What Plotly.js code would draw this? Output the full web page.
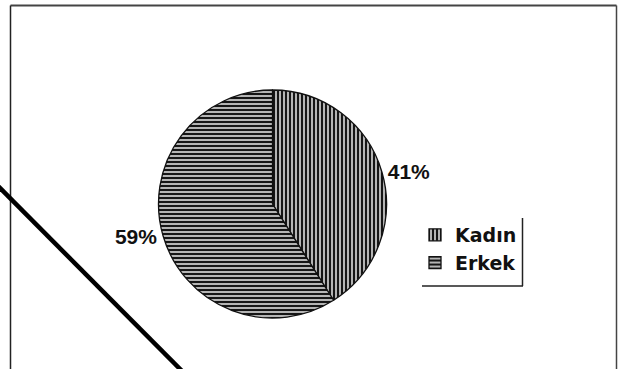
<!DOCTYPE html>
<html>
<head>
<meta charset="utf-8">
<script src="https://cdn.plot.ly/plotly-3.0.1.min.js"></script>
<style>
html,body{margin:0;padding:0;background:#fff;}
#chart{width:620px;height:369px;}
</style>
</head>
<body>
<div id="chart"></div>
<script>
// Data
const categories = ["Kadın", "Erkek"];
const values = [41, 59];
const patternShapes = ["|", "-"];

const W = 620, H = 369;
const px = x => x / W;
const py = y => 1 - y / H;

// pie placement
const cx = 272.5, cy = 204, r = 114;

const trace = {
  type: "pie",
  labels: categories,
  values: values,
  sort: false,
  direction: "clockwise",
  rotation: 0,
  textinfo: "percent",
  textposition: "outside",
  texttemplate: "%{percent:.0%}",
  outsidetextfont: {family: "Liberation Sans", size: 21, color: "#111", weight: "bold"},
  marker: {
    colors: ["#b4b4b4", "#b4b4b4"],
    line: {color: "#111", width: 1.3},
    pattern: {shape: patternShapes, size: 4, solidity: 0.5, fgcolor: "#151515", bgcolor: "#b4b4b4", fillmode: "replace"}
  },
  domain: {x: [px(cx - r), px(cx + r)], y: [1 - (cy + r) / H, 1 - (cy - r) / H]},
  hoverinfo: "none",
  automargin: false
};

const layout = {
  width: W, height: H,
  margin: {l: 0, r: 0, t: 0, b: 0},
  paper_bgcolor: "#fff",
  showlegend: true,
  legend: {
    x: px(415), y: py(216), xanchor: "left", yanchor: "top",
    font: {family: "DejaVu Sans, sans-serif", size: 19, color: "#111", weight: "bold"},
    bgcolor: "rgba(0,0,0,0)", borderwidth: 0
  },
  shapes: [
    // outer frame
    {type: "line", xref: "paper", yref: "paper", x0: px(10.5), x1: px(616.5), y0: py(5.5), y1: py(5.5), line: {color: "#444", width: 2}},
    {type: "line", xref: "paper", yref: "paper", x0: px(10.5), x1: px(10.5), y0: py(5.5), y1: py(372), line: {color: "#222", width: 1.5}},
    {type: "line", xref: "paper", yref: "paper", x0: px(616.5), x1: px(616.5), y0: py(5.5), y1: py(372), line: {color: "#444", width: 1.5}},
    // legend shadow lines
    {type: "line", xref: "paper", yref: "paper", x0: px(522.5), x1: px(522.5), y0: py(218), y1: py(286), line: {color: "#222", width: 1.5}},
    {type: "line", xref: "paper", yref: "paper", x0: px(422), x1: px(523), y0: py(286), y1: py(286), line: {color: "#222", width: 1.5}},
    // diagonal stroke
    {type: "line", xref: "paper", yref: "paper", x0: px(-3), x1: px(183), y0: py(185), y1: py(372), line: {color: "#000", width: 4.5}}
  ]
};

Plotly.newPlot("chart", [trace], layout, {staticPlot: true, displayModeBar: false});
</script>
</body>
</html>
